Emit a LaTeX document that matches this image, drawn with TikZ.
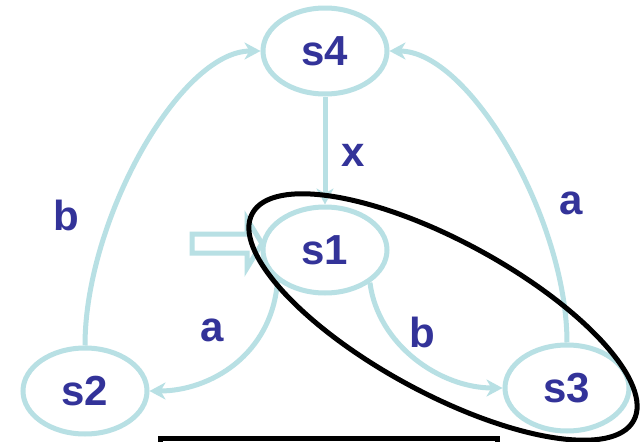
\documentclass[tikz,border=0pt]{standalone}
\usepackage{fontspec}
\setmainfont{Liberation Sans}
\usetikzlibrary{shapes.geometric,arrows.meta}
\definecolor{edgecyan}{RGB}{184,224,228}
\definecolor{labelblue}{RGB}{51,51,153}
\tikzset{
  state/.style={draw=edgecyan, line width=5pt, ellipse, inner sep=0pt,
    minimum width=124pt, minimum height=86pt, text=labelblue,
    font=\fontsize{42}{48}\selectfont\bfseries},
  edge/.style={draw=edgecyan, line width=5pt,
    -{Stealth[length=16pt,width=17pt,inset=5pt]}},
  lbl/.style={text=labelblue, font=\fontsize{42}{48}\selectfont\bfseries, inner sep=0pt},
  loopline/.style={draw=black, line width=5pt, ellipse, inner sep=0pt}
}
\begin{document}
\begin{tikzpicture}[x=1pt,y=-1pt]
\useasboundingbox (0,0) rectangle (641,442);
\fill[white] (0,0) rectangle (641,442);
% states
\node[state] (s4) at (325,51) {s4};
\node[state] (s1) at (325,250) {s1};
\node[state] (s2) at (85,391) {s2};
\node[state] (s3) at (567,388) {s3};
% edges
\draw[edge] (s4.south) -- (s1.north);
\draw[edge] (s2.north) .. controls (85,220) and (180,51) .. (s4.west);
\draw[edge] (s3.north) .. controls (567,220) and (470,51) .. (s4.east);
\draw[edge] (s1.-147) .. controls (272,355) and (210,391) .. (s2.east);
\draw[edge] (s1.-36) .. controls (378,345) and (440,388) .. (s3.west);
% labels
\node[lbl] (lx) at (353,155) {x};
\node[lbl] (lb1) at (66,215) {b};
\node[lbl] (la1) at (571,203) {a};
\node[lbl] (la2) at (212,330) {a};
\node[lbl] (lb2) at (422,332) {b};
% start arrow
\draw[edgecyan, line width=5pt, line join=miter]
  (192,234) -- (247,234) -- (247,219) -- (262,243.5) -- (247,268) -- (247,253) -- (192,253) -- cycle;
% black loop
\node[loopline, minimum width=434pt, minimum height=152pt, rotate=-28.5] (loop) at (443,317) {};
% bottom box
\draw[black, line width=5pt, line join=miter] (160.5,470) -- (160.5,438.5) -- (497,438.5) -- (497,470);
\end{tikzpicture}
\end{document}
